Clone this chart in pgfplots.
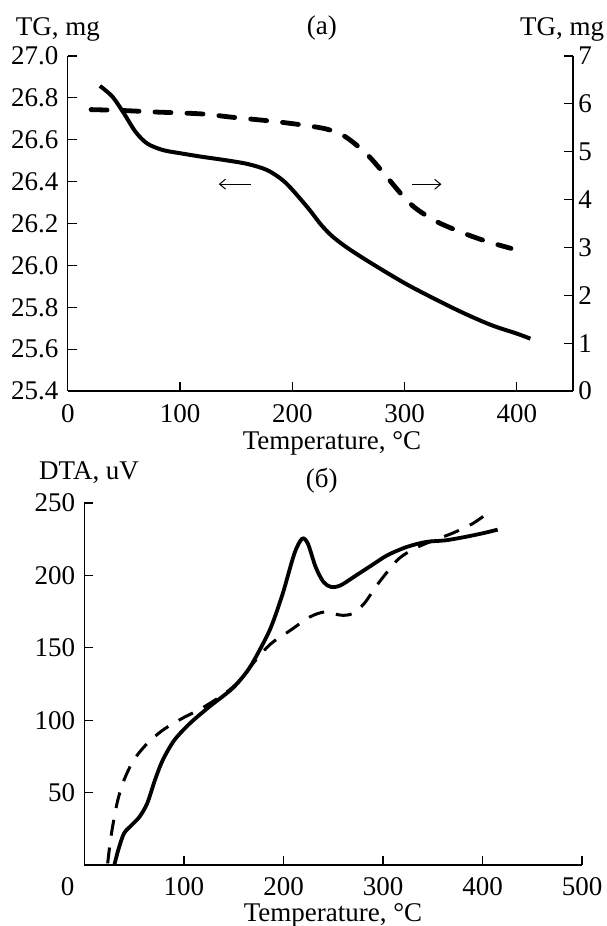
\documentclass[border=0pt]{standalone}
\usepackage{fontspec}
\setmainfont{Liberation Serif}
\usepackage{pgfplots}
\pgfplotsset{compat=1.18}
\usetikzlibrary{arrows.meta}
\begin{document}
\fontsize{13.5}{16}\selectfont
\begin{tikzpicture}
\path[use as bounding box] (0,0) rectangle (303pt,463pt);
\pgfplotsset{
  every axis/.append style={
    scale only axis,
    /pgf/number format/assume math mode=true,
    tick align=inside,
    axis line style={line width=0.6pt},
    tick style={line width=0.6pt, black},
    major tick length=4.5pt,
    tick label style={font=\fontsize{13.5}{16}\selectfont},
  }
}
% ---------- top panel (a), left axis ----------
\begin{axis}[
  at={(33.9pt,267.5pt)}, anchor=south west,
  width=252.6pt, height=167.5pt,
  xmin=0, xmax=450, ymin=25.4, ymax=27.0,
  axis x line*=bottom, axis y line*=left,
  xtick={0,100,200,300,400},
  ytick={25.4,25.6,...,27.01},
  yticklabel style={/pgf/number format/.cd, fixed, fixed zerofill, precision=1},
  xticklabel style={yshift=-2pt},
]
\addplot[black, line width=2pt, smooth] coordinates {
(28.6,26.857) (39.7,26.806) (50,26.726) (60.3,26.638) (70.7,26.582)
(84.5,26.551) (100.7,26.535) (119,26.519) (139.7,26.503) (160.3,26.484)
(177.6,26.455) (191.4,26.407) (201.7,26.351) (215.5,26.264) (225.9,26.192)
(236.2,26.136) (250,26.080) (270.7,26.009) (300.7,25.913) (329.3,25.833)
(353.4,25.770) (377.6,25.714) (400,25.674) (412,25.650)
};
\draw[line width=0.5pt, -{Straight Barb[length=3pt,width=5pt]}] (axis cs:163,26.388) -- (axis cs:134.5,26.388);
\end{axis}
% ---------- top panel (a), right axis ----------
\begin{axis}[
  at={(33.9pt,267.5pt)}, anchor=south west,
  width=252.6pt, height=167.5pt,
  xmin=0, xmax=450, ymin=0, ymax=7,
  axis x line=none, axis y line*=right,
  ytick={0,1,...,7},
  yticklabel style={xshift=-2pt},
]
\addplot[black, line width=2.4pt, smooth, line cap=round, dash pattern=on 8pt off 8pt] coordinates {
(20.7,5.88) (50,5.86) (77.6,5.83) (119,5.79) (146.6,5.72) (181,5.64)
(208.6,5.56) (229.3,5.48) (243,5.37) (253.4,5.21) (267.2,4.93)
(279.3,4.61) (291.4,4.27) (301.7,3.99) (312,3.78) (329.3,3.53)
(353.4,3.29) (374,3.12) (394.8,2.98)
};
\draw[line width=0.5pt, -{Straight Barb[length=3pt,width=5pt]}] (axis cs:306.9,4.32) -- (axis cs:332.8,4.32);
\end{axis}
% ---------- bottom panel (b) ----------
\begin{axis}[
  at={(42.25pt,30.5pt)}, anchor=south west,
  width=248.75pt, height=181pt,
  xmin=0, xmax=500, ymin=0, ymax=250,
  axis x line*=bottom, axis y line*=left,
  xtick={100,200,300,400,500},
  ytick={50,100,150,200,250},
  extra x ticks={0},
  extra x tick style={major tick length=0pt, xticklabel style={xshift=-8.4pt}},
  xticklabel style={yshift=-1.5pt},
  clip=false,
]
\addplot[black, line width=1.9pt, smooth] coordinates {
(30,0) (33.9,10.3) (39.7,21.8) (47.5,27.6) (55.3,33.3) (63,42.5)
(70.8,58.6) (78.6,72.4) (90.3,86.2) (105.8,97.7) (125.3,109.2)
(148.6,121.9) (164.2,134.5) (175.9,148.3) (187.5,164.4) (199.2,187.4)
(210.9,215) (218.7,225.3) (224.5,221.9) (232.3,205.8) (240.1,195.5)
(247.9,192) (257.6,193.2) (273.2,200.1) (288.7,207) (304.3,213.9)
(323.7,219.6) (343.2,223.1) (362.6,224.2) (382.1,226.5) (401.6,229.3)
(415.2,231.6)
};
\addplot[black, line width=1.5pt, smooth, dash pattern=on 8pt off 6pt] coordinates {
(23.3,1.1) (26.1,17.2) (30,33.3) (33.9,46) (39.7,58.6) (49.4,72.4)
(63,83.9) (78.6,93.1) (98,101.2) (117.5,108.1) (140.9,118.4)
(156.4,127.6) (172,141.4) (187.5,152.9) (207,162.1) (226.5,171.3)
(242,174.8) (257.6,172.5) (269.3,173.6) (281,180.5) (292.6,192)
(304.3,202.4) (316,211.6) (331.5,218.5) (351,224.2) (370.4,229.3)
(389.9,235.7) (405.4,243.1)
};
\end{axis}
% ---------- texts ----------
\node[anchor=base west, inner sep=0pt] at (7.75pt,445pt) {TG, mg};
\node[anchor=base east, inner sep=0pt] at (302.2pt,445pt) {TG, mg};
\node[anchor=base, inner sep=0pt] at (160.9pt,445.5pt) {(a)};
\node[anchor=base, inner sep=0pt] at (166pt,238pt) {Temperature, °C};
\node[anchor=base west, inner sep=0pt] at (19.4pt,223pt) {DTA, uV};
\node[anchor=base, inner sep=0pt] at (160.9pt,219pt) {(б)};
\node[anchor=base, inner sep=0pt] at (166.5pt,2pt) {Temperature, °C};
\end{tikzpicture}
\end{document}
